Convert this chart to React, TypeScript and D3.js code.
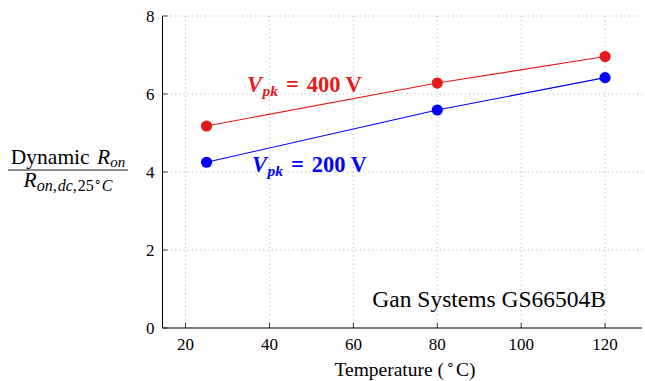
import React from "react";
import * as d3 from "d3";

const temps = [25, 80, 120];
const v400 = [5.18, 6.28, 6.96];
const v200 = [4.25, 5.59, 6.42];
const xTicks = [20, 40, 60, 80, 100, 120];
const yTicks = [0, 2, 4, 6, 8];

const W = 645, H = 381;
const left = 162.5, right = 642, top = 16, bottom = 328;
const RED = "#e41a1c";
const BLUE = "#0000ff";
const FONT = "'Liberation Serif', 'Times New Roman', serif";

function VLabel({ x, y, color, value }: { x: number; y: number; color: string; value: string }) {
  return (
    <text x={x} y={y} fill={color} fontSize={22.5} fontWeight="bold">
      <tspan fontStyle="italic">V</tspan>
      <tspan fontStyle="italic" fontSize={15.5} dy={4} dx={0.5}>pk</tspan>
      <tspan dy={-4} dx={8}>=</tspan>
      <tspan dx={8}>{value}</tspan>
      <tspan dx={5}>V</tspan>
    </text>
  );
}

export default function App() {
  const x = d3.scaleLinear().domain([14.5, 128.8]).range([left, right]);
  const y = d3.scaleLinear().domain([0, 8]).range([bottom, top]);
  const line = d3.line<number>().x((_, i) => x(temps[i])).y((d) => y(d));

  return (
    <svg width={W} height={H} style={{ position: "absolute", left: 0, top: 0 }} fontFamily={FONT}>
      <rect width={W} height={H} fill="white" />
      {/* grid */}
      {xTicks.map((t) => (
        <line key={"gx" + t} x1={x(t)} x2={x(t)} y1={top} y2={bottom} stroke="#999" strokeWidth={0.8} strokeDasharray="1 3.2" />
      ))}
      {yTicks.filter((t) => t > 0).map((t) => (
        <line key={"gy" + t} x1={left} x2={right} y1={y(t)} y2={y(t)} stroke="#999" strokeWidth={0.8} strokeDasharray="1 3.2" />
      ))}
      {/* axes */}
      <line x1={left} x2={left} y1={top} y2={bottom} stroke="black" strokeWidth={1} />
      <line x1={left} x2={right} y1={bottom} y2={bottom} stroke="black" strokeWidth={1} />
      {yTicks.map((t) => (
        <g key={"ty" + t}>
          <line x1={left} x2={left + 5} y1={y(t)} y2={y(t)} stroke="black" strokeWidth={0.8} />
          <text x={left - 8} y={y(t) + 6} textAnchor="end" fontSize={17}>{t}</text>
        </g>
      ))}
      {xTicks.map((t) => (
        <g key={"tx" + t}>
          <line x1={x(t)} x2={x(t)} y1={bottom} y2={bottom - 5} stroke="black" strokeWidth={0.8} />
          <text x={x(t)} y={bottom + 22} textAnchor="middle" fontSize={17}>{t}</text>
        </g>
      ))}
      {/* series */}
      <path d={line(v400) || ""} fill="none" stroke={RED} strokeWidth={1.1} />
      <path d={line(v200) || ""} fill="none" stroke={BLUE} strokeWidth={1.1} />
      {v400.map((v, i) => (
        <circle key={"r" + i} cx={x(temps[i])} cy={y(v)} r={5.6} fill={RED} />
      ))}
      {v200.map((v, i) => (
        <circle key={"b" + i} cx={x(temps[i])} cy={y(v)} r={5.6} fill={BLUE} />
      ))}
      {/* labels */}
      <VLabel x={247} y={92} color={RED} value="400" />
      <VLabel x={252} y={172} color={BLUE} value="200" />
      <text x={606} y={307} textAnchor="end" fontSize={23.5}>Gan Systems GS66504B</text>
      <text x={405} y={376} textAnchor="middle" fontSize={19.5}>
        Temperature (<tspan fontSize={14} dy={-7} dx={2}>∘</tspan><tspan dy={7} dx={1}>C</tspan>)
      </text>
      {/* y label fraction */}
      <text x={68} y={163.5} textAnchor="middle" fontSize={21.5}>
        <tspan>Dynamic </tspan>
        <tspan fontStyle="italic" dx={2}>R</tspan>
        <tspan fontStyle="italic" fontSize={15} dy={3.5}>on</tspan>
      </text>
      <line x1={8} x2={128} y1={170} y2={170} stroke="black" strokeWidth={0.9} />
      <text x={68} y={187} textAnchor="middle" fontSize={21.5}>
        <tspan fontStyle="italic">R</tspan>
        <tspan fontSize={16} dy={3.5}><tspan fontStyle="italic">on</tspan>,<tspan fontStyle="italic" dx={1}>dc</tspan>,<tspan dx={1}>25</tspan><tspan fontSize={12} dy={-5}>∘</tspan><tspan fontStyle="italic" dy={5}>C</tspan></tspan>
      </text>
    </svg>
  );
}
